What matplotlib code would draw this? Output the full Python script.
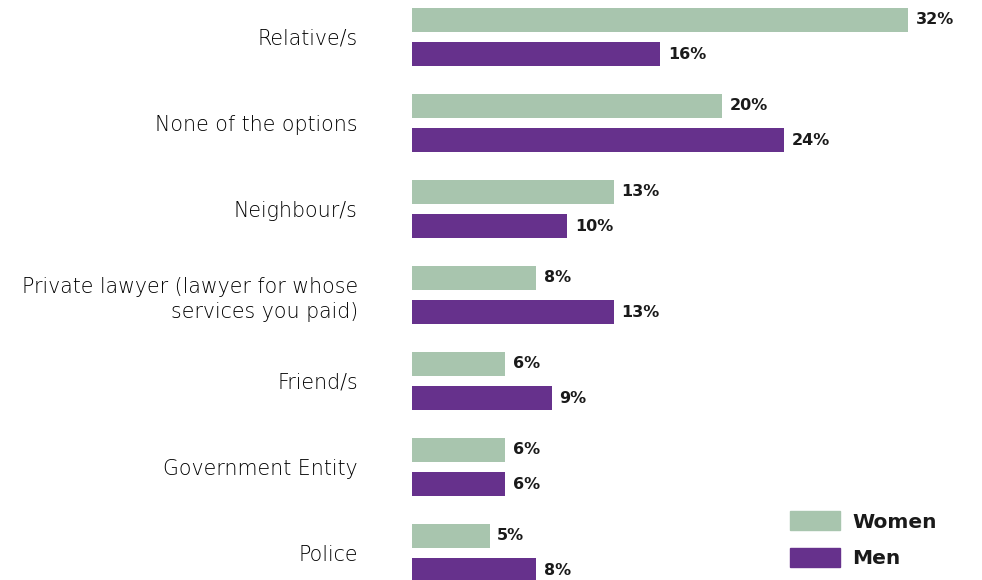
import matplotlib.pyplot as plt
import numpy as np
from matplotlib.patches import Patch

# ======================= Data ==========================
categories = [
    "Relative/s",
    "None of the options",
    "Neighbour/s",
    "Private lawyer (lawyer for whose\nservices you paid)",
    "Friend/s",
    "Government Entity",
    "Police",
]
women = [32, 20, 13, 8, 6, 6, 5]
men = [16, 24, 10, 13, 9, 6, 8]

green = "#a8c5ae"
purple = "#66318c"

plt.rcParams["font.family"] = ["DejaVu Sans"]

# ======================= Plot ==========================
fig = plt.figure(figsize=(9.82, 5.8), dpi=100)
ax = fig.add_axes([412 / 982, 0, 558 / 982, 1])

y = np.arange(len(categories))
h = 0.28
off = 0.198
ax.barh(y - off, women, height=h, color=green)
ax.barh(y + off, men, height=h, color=purple)

for yi, w, m in zip(y, women, men):
    ax.text(w + 0.5, yi - off, f"{w}%", va="center", ha="left",
            fontsize=11.5, fontweight="bold", color="#1a1a1a")
    ax.text(m + 0.5, yi + off, f"{m}%", va="center", ha="left",
            fontsize=11.5, fontweight="bold", color="#1a1a1a")

ax.set_xlim(0, 36)
ax.set_ylim(6.314, -0.430)
ax.set_yticks(y)
labels = ax.set_yticklabels(categories, fontsize=14.8, fontweight="light", color="#000000")
for lb in labels:
    lb.set_linespacing(1.3)
ax.tick_params(axis="y", length=0, pad=39)
ax.set_xticks([])
for s in ax.spines.values():
    s.set_visible(False)

handles = [Patch(color=green, label="Women"), Patch(color=purple, label="Men")]
leg = fig.legend(
    handles=handles,
    loc="upper left",
    bbox_to_anchor=(772 / 982, 1 - 493 / 580),
    frameon=False,
    prop={"size": 14.5, "weight": "bold"},
    handlelength=2.5,
    handleheight=1.1,
    handletextpad=0.6,
    labelspacing=0.8,
)
for t in leg.get_texts():
    t.set_color("#1a1a1a")

fig.savefig("out.png", dpi=100)
